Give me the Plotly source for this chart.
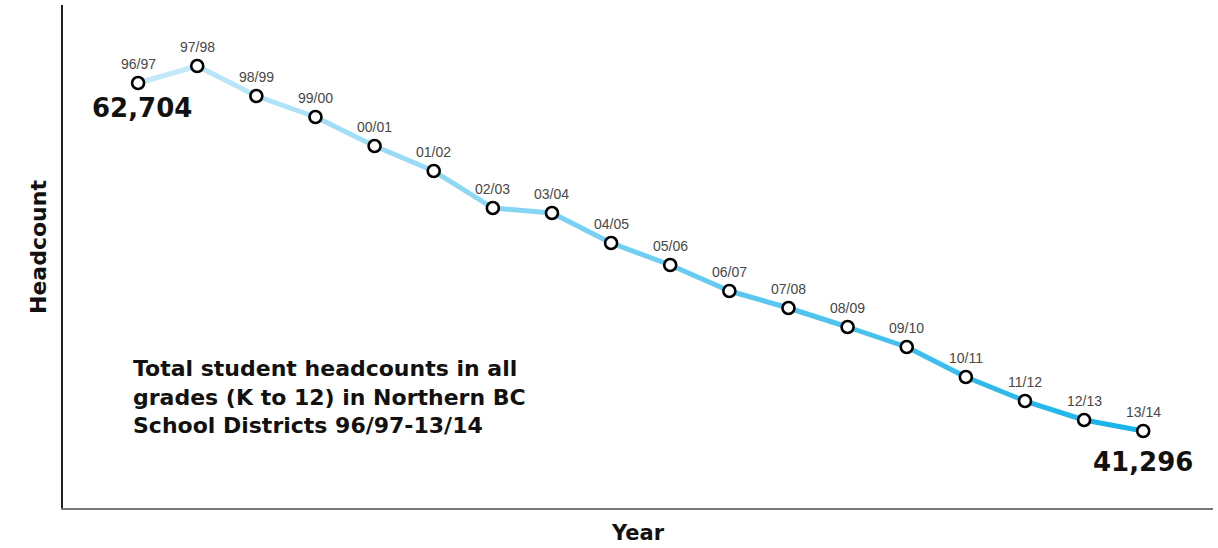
import plotly.graph_objects as go

years = ["96/97","97/98","98/99","99/00","00/01","01/02","02/03","03/04","04/05",
         "05/06","06/07","07/08","08/09","09/10","10/11","11/12","12/13","13/14"]
headcount = [62704, 63750, 61904, 60612, 58828, 57290, 55014, 54706, 52861,
             51508, 49908, 48862, 47693, 46463, 44617, 43140, 41972, 41296]

start_rgb = (200, 234, 250)
end_rgb = (22, 178, 234)

BOLD = "DejaVu Sans, Liberation Sans, sans-serif"
xs = list(range(len(years)))
fig = go.Figure()
n = len(years) - 1
for i in range(n):
    t = (i + 0.5) / n
    c = tuple(int(round(start_rgb[k] + (end_rgb[k] - start_rgb[k]) * t)) for k in range(3))
    fig.add_trace(go.Scatter(
        x=[xs[i], xs[i + 1]], y=[headcount[i], headcount[i + 1]],
        mode="lines", line=dict(color="rgb(%d,%d,%d)" % c, width=5),
        hoverinfo="skip", showlegend=False))

fig.add_trace(go.Scatter(
    x=xs, y=headcount, mode="markers",
    marker=dict(size=12, color="white", line=dict(color="black", width=2.6)),
    showlegend=False, cliponaxis=False))

for xv, yv, lab in zip(xs, headcount, years):
    fig.add_annotation(x=xv, y=yv, text=lab, showarrow=False,
                       xanchor="center", yanchor="middle", yshift=19,
                       font=dict(family="Liberation Sans, Arial, sans-serif", size=14, color="#474747"))

big = dict(family=BOLD, size=26, color="#111111", weight="bold")
fig.add_annotation(x=xs[0], y=headcount[0], text="{:,}".format(headcount[0]),
                   showarrow=False, xanchor="center", yanchor="middle",
                   xshift=4, yshift=-25, font=big)
fig.add_annotation(x=xs[-1], y=headcount[-1], text="{:,}".format(headcount[-1]),
                   showarrow=False, xanchor="center", yanchor="middle",
                   xshift=0, yshift=-31, font=big)

fig.add_annotation(xref="paper", yref="paper", x=(131 - 63) / 1150, y=(508 - 354) / 503,
                   xanchor="left", yanchor="top", align="left", showarrow=False,
                   text="Total student headcounts in all<br>grades (K to 12) in Northern BC<br>School Districts 96/97-13/14",
                   font=dict(family=BOLD, size=22, color="#111111", weight="bold"))

fig.add_annotation(xref="paper", yref="paper", x=-25 / 1150, y=(508 - 247) / 503,
                   xanchor="center", yanchor="middle", textangle=-90, showarrow=False,
                   text="Headcount",
                   font=dict(family=BOLD, size=22, color="#111111", weight="bold"))

fig.update_layout(
    width=1218, height=548,
    margin=dict(l=63, r=5, t=5, b=40),
    paper_bgcolor="white", plot_bgcolor="white",
    xaxis=dict(range=[-1.27, 18.18], showgrid=False, zeroline=False, showticklabels=False,
               ticks="", showline=True, linecolor="#777777", linewidth=2,
               title=dict(text="Year", standoff=16,
                          font=dict(family=BOLD, size=21, color="#111111", weight="bold"))),
    yaxis=dict(range=[36558, 67503], showgrid=False, zeroline=False, showticklabels=False,
               ticks="", showline=True, linecolor="#222222", linewidth=1.5),
)

fig.write_html("out.html")
